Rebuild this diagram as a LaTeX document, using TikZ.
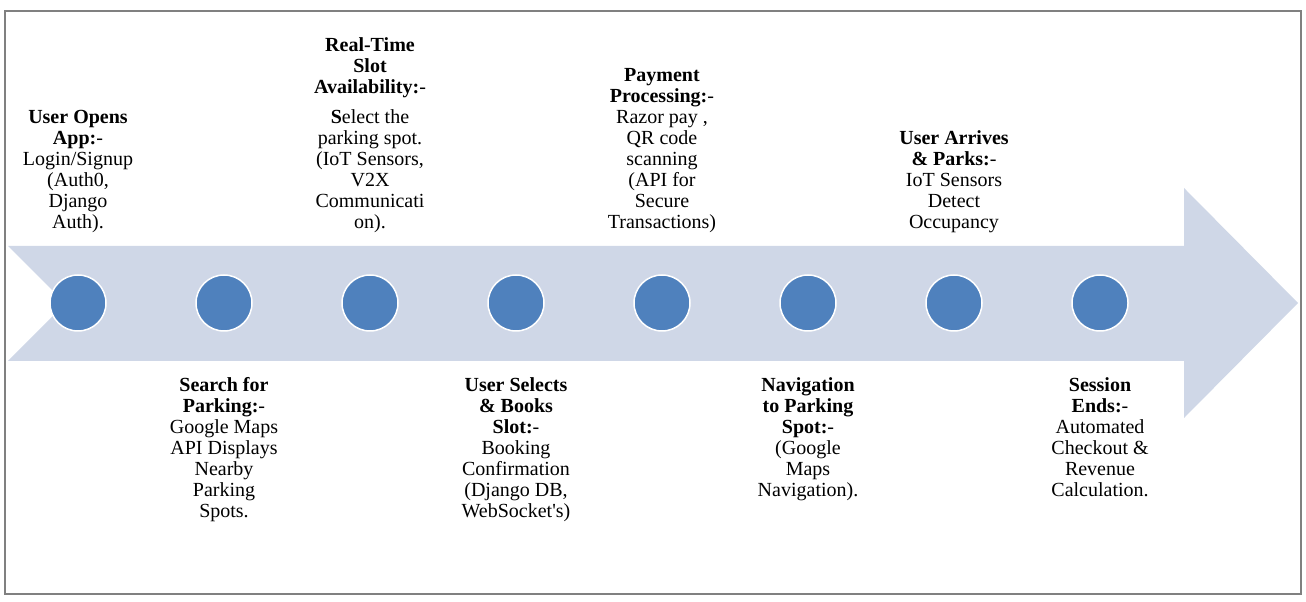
\documentclass[tikz,border=0pt]{standalone}
\usepackage{fontspec}
\setmainfont{Liberation Serif}
\usepackage{tikz}
\usetikzlibrary{positioning}
\usepackage{xcolor}
\definecolor{arrowfill}{HTML}{CFD7E7}
\definecolor{stageblue}{HTML}{4F81BD}
\tikzstyle{stage} = [circle, minimum size=56pt, inner sep=0pt, outer sep=0pt, fill=stageblue, draw=white, line width=1.5pt]
\tikzstyle{stagenote} = [align=center, inner sep=0pt, font=\fontsize{20}{21}\selectfont]

\begin{document}
\begin{tikzpicture}[x=1pt, y=1pt]
  \useasboundingbox (0,0) rectangle (1306,602);
  \draw[draw=black!50, line width=2pt] (5,591) rectangle (1301,8);
  \fill[arrowfill] (8,356) -- (1184,356) -- (1184,414) -- (1298,299) -- (1184,184) -- (1184,241) -- (8,241) -- (65.5,298.5) -- cycle;

  \node[stage] (open) at (78,299) {};
  \node[stage, right=90pt of open] (search) {};
  \node[stage, right=90pt of search] (slots) {};
  \node[stage, right=90pt of slots] (booking) {};
  \node[stage, right=90pt of booking] (payment) {};
  \node[stage, right=90pt of payment] (navigation) {};
  \node[stage, right=90pt of navigation] (arrival) {};
  \node[stage, right=90pt of arrival] (session) {};

  \node[stagenote, above=42pt of open] (opentext) {\textbf{User Opens}\\\textbf{App:}-\\Login/Signup\\(Auth0,\\Django\\Auth).};
  \node[stagenote, above=42pt of slots] (slotstext) {\textbf{Real-Time}\\\textbf{Slot}\\\textbf{Availability:}-\\[9pt]\textbf{S}elect the\\parking spot.\\(IoT Sensors,\\V2X\\Communicati\\on).};
  \node[stagenote, above=42pt of payment] (paymenttext) {\textbf{Payment}\\\textbf{Processing:}-\\Razor pay ,\\QR code\\scanning\\(API for\\Secure\\Transactions)};
  \node[stagenote, above=42pt of arrival] (arrivaltext) {\textbf{User Arrives}\\\textbf{\& Parks:}-\\IoT Sensors\\Detect\\Occupancy};

  \node[stagenote, below=46pt of search] (searchtext) {\textbf{Search for}\\\textbf{Parking:}-\\Google Maps\\API Displays\\Nearby\\Parking\\Spots.};
  \node[stagenote, below=46pt of booking] (bookingtext) {\textbf{User Selects}\\\textbf{\& Books}\\\textbf{Slot:}-\\Booking\\Confirmation\\(Django DB,\\WebSocket\textquotesingle s)};
  \node[stagenote, below=46pt of navigation] (navigationtext) {\textbf{Navigation}\\\textbf{to Parking}\\\textbf{Spot:}-\\(Google\\Maps\\Navigation).};
  \node[stagenote, below=46pt of session] (sessiontext) {\textbf{Session}\\\textbf{Ends:}-\\Automated\\Checkout \&\\Revenue\\Calculation.};
\end{tikzpicture}
\end{document}
